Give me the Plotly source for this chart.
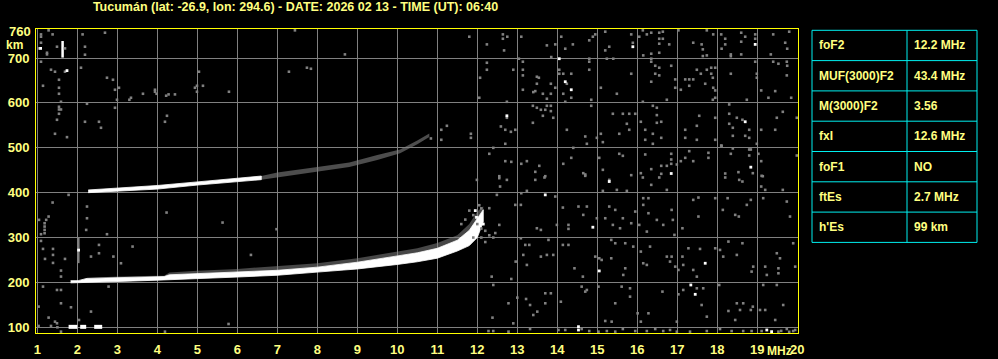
import plotly.graph_objects as go

# ---------------- data ----------------
title_text = "Tucumán (lat: -26.9, lon: 294.6) - DATE: 2026 02 13 - TIME (UT): 06:40"
freq_ticks = list(range(1, 21))
height_ticks = [100, 200, 300, 400, 500, 600, 700]
top_height_label = 760

table_params = ["foF2", "MUF(3000)F2", "M(3000)F2", "fxI", "foF1", "ftEs", "h'Es"]
table_values = ["12.2 MHz", "43.4 MHz", "3.56", "12.6 MHz", "NO", "2.7 MHz", "99 km"]

# F2 trace (white core band, lower & upper virtual height)
f2_freq = [1.83, 2.02, 2.24, 3.0, 4.0, 4.17, 4.3, 5.0, 6.0, 7.0, 8.0, 9.0, 10.0, 10.5, 11.0, 11.5, 11.8, 12.0, 12.15]
f2_lo   = [199, 199, 200, 202, 205, 206, 206, 208, 212, 216, 223, 230, 240, 246, 254, 270, 282, 300, 335]
f2_hi   = [204, 204, 209, 211, 213, 213, 217, 220, 223, 227, 234, 245, 259, 266, 276, 294, 316, 342, 362]
f2_fringe = [204, 204, 210, 213, 215, 215, 222, 226, 230, 236, 243, 254, 268, 276, 288, 305, 330, 358, 370]

# second-hop F trace
f2b_white_freq = [2.27, 3.0, 4.0, 5.0, 6.0, 6.6]
f2b_white_lo   = [400, 403, 408, 417, 425, 429]
f2b_white_hi   = [406, 410, 416, 424, 433, 437]
f2b_gray_freq  = [6.6, 7.0, 8.0, 8.8, 9.5, 10.07, 10.5, 10.8]
f2b_gray_lo    = [429, 435, 447, 457, 473, 488, 508, 524]
f2b_gray_hi    = [437, 445, 457, 467, 484, 496, 516, 532]

# sporadic E segments (start MHz, end MHz) at virtual height
es_segments = [(1.78, 2.0), (2.07, 2.22), (2.42, 2.62)]
es_height = 101

# isolated vertical echoes (freq, km from, km to)
white_spike = (1.63, 701, 738)
gray_spike = (2.03, 243, 301)

noise_gray = [
    # 700-760 km
    (11.8,747.5),(12.24,730.4),(12.64,752.7),(12.64,743),(12.75,747.5),(12.67,717),(13.1,747.5),(13.74,728.2),
    (13.85,702.2),(13.95,730.4),(14.1,747.5),(14.2,720.8),(14.39,730.4),(14.8,739.4),(14.89,747.5),(14.95,752.7),
    (15.2,758.7),(15.3,725.2),(15.2,717),(15.85,752.7),(15.89,734),(16.05,747.5),(16.14,761.7),(16.24,752.7),
    (16.35,756.4),(16.55,756.4),(16.64,758.7),(16.55,743),(16.64,743),(16.55,731.9),(16.8,730.4),(16.35,709.6),
    (16.15,705.9),(16.55,711.8),(17.03,761.7),(17.4,734.1),(17.61,730.4),(17.64,719.3),(17.74,761.7),(17.9,752.7),
    (17.64,704.4),(17.74,705.9),(18.1,752.7),(18.2,743),(18.2,730.4),(18.11,720.8),(18.34,708.1),(18.34,704),
    (18.6,756.4),(18.6,736.4),(18.7,747.5),(18.95,752.7),(18.95,743),(19.4,752.7),(19.8,758.7),(19.7,734.1),
    (19.75,720.8),(19.34,708.1),(18.6,708.1),
    (1.09,752.7),(1.09,747.5),(1.28,761.7),(1.38,752.7),(2.13,752.7),(2.69,756.4),(1.09,734.1),(1.49,725.2),
    (1.69,721.5),(1.03,721.5),(2.19,725.2),(1.24,711.8),(1.24,708.1),(2.19,707.4),(7.44,761.7),(8.69,708.1),
    # 600-700 km
    (12.24,689.5),(12.24,673.9),(12.07,656.1),(12.05,611.5),(12.74,602.5),(12.9,673.9),(13.04,698.5),(13.14,691.8),
    (13.14,673.9),(13.14,661.3),(13.14,629.3),(13.49,658.3),(13.54,656.1),(13.49,642.7),(13.4,624.1),(13.45,626.3),
    (13.74,609.3),(13.64,620.4),(13.84,642.7),(13.95,633.8),(13.84,620.4),(14.05,673.9),(14.05,665),(14.15,665),
    (14.35,665),(14.24,642.7),(14.15,620.4),(14.35,611.5),(14.2,602.5),(14.8,698.5),(14.8,691.8),(14.8,673.9),
    (14.85,607),(15.09,633.8),(15.24,698.5),(15.4,698.5),(15.49,620.4),(15.85,665),(16.14,602.5),(16.35,698.5),
    (16.35,691.8),(16.45,682.8),(16.55,678.4),(16.45,665),(16.55,661.3),(16.85,682.8),(16.35,647.2),(16.95,652.4),
    (16.95,633.8),(16.74,607),(17.2,652.4),(17.3,652.4),(17.4,652.4),(17.3,638.2),(17.09,629.3),(17.49,673.9),
    (17.59,665),(17.74,673.9),(17.85,678.4),(17.95,678.4),(17.85,665),(17.89,656.1),(17.7,642.7),(17.9,633.8),
    (17.95,627.8),(17.89,607),(17.95,611.5),(18.34,665),(18.74,607),(18.99,665),(18.99,656.1),(18.95,691.8),
    (19.4,691.8),(19.53,687.3),(19.74,691.8),(19.75,682.8),(19.74,661.3),(19.1,627.8),(19.45,626.3),(19.28,611.5),
    (19.85,611.5),
    (1.09,691.8),(1.34,673.9),(1.44,669.5),(1.69,669.5),(2.09,678.4),(1.54,651.6),(1.14,638.2),(1.54,633.8),
    (1.54,620.4),(1.59,602.5),(2.74,656.1),(2.89,651.6),(2.94,629.3),(3.04,633.8),(2.99,607),(3.3,607),
    (3.34,611.5),(3.64,620.4),(3.94,629.3),(3.94,624.9),(3.98,620.4),(4.22,616),(4.28,619),(4.44,619),
    (4.94,633.8),(4.99,638.2),(4.99,624.9),(5.14,638.2),(5.04,669.5),(5.79,624.9),(7.29,669.5),(7.74,678.4),
    (7.84,676.1),
    # 500-600 km
    (10.84,520.8),(11.1,540.1),(11.24,549),(11.84,531.2),(11.84,522.2),(11.1,517.8),(12.74,566.9),(12.59,547.5),
    (12.7,540.1),(12.84,535.6),(12.95,540.1),(12.7,508.9),(13.39,593.6),(13.39,555.7),(13.49,589.2),(13.59,584.7),
    (13.7,584.7),(13.74,593.6),(13.84,593.6),(13.84,581.7),(13.64,571.3),(13.9,566.9),(14.24,540.1),(14.7,525.2),
    (14.74,508.9),(14.99,522.2),(15.14,512.6),(15.09,531.2),(14.85,593.6),(15.39,575.8),(15.64,575.8),(15.8,575.8),
    (15.95,575.8),(15.74,553.5),(15.55,531.2),(15.8,540.1),(16.09,558),(16.2,540.1),(16.39,593.6),(16.49,589.2),
    (16.49,572.8),(16.49,555.7),(16.6,558),(16.39,531.2),(16.2,517.8),(16.39,508.9),(16.6,522.2),(17.2,540.1),
    (17.2,522.2),(17.49,549),(17.55,571.3),(17.49,517.8),(17.95,566.9),(17.95,517.8),(18.11,504.4),(18.3,596.6),
    (18.3,575.8),(18.3,553.5),(18.39,544.6),(18.49,566.9),(18.63,562.4),(18.8,540.1),(18.39,526.7),(18.7,526.7),
    (18.8,522.2),(19.1,540.1),(19.45,540.1),(19.49,566.9),(19.64,580.2),(19.99,566.9),(18.99,508.9),
    (1.54,591.4),(1.54,585.4),(1.59,585.4),(1.54,575.8),(1.49,562.4),(1.44,531.2),(1.74,523.7),(2.94,589.2),
    (2.24,598.1),(2.19,558),(2.54,558),(2.59,544.6),(4.24,571.3),(4.19,558),
    # 400-500 km
    (12.4,499.9),(12.3,486.6),(12.7,470.2),(12.85,468.7),(12.55,436.7),(13.1,464.3),(13.24,470.2),(13.55,459.8),
    (13.45,446.4),(13.7,436.7),(14.15,464.3),(14.35,477.6),(14.4,499.9),(14.65,443.4),(14.7,440.5),(15.05,477.6),
    (15.14,450.9),(15.55,486.6),(15.64,482.1),(15.85,439),(16.2,485.1),(16.09,443.4),(16.35,452.4),(16.6,459.8),
    (16.6,442),(16.74,459.8),(16.85,486.6),(16.85,473.9),(16.85,464.3),(16.99,462.8),(17.09,470.2),(17.2,477.6),
    (17.3,492.5),(17.4,470.2),(17.78,488.8),(17.78,477.6),(18.1,505),(18.34,486.6),(18.39,498.5),(18.8,496.2),
    (18.84,496.2),(18.8,482.8),(18.89,443.4),(19.03,486.6),(19.1,470.2),(18.2,442.7),(18.53,445.7),(19.14,436.7),
    (19.99,482.8),
    (11.99,428.5),(12.55,432.3),(12.57,413.7),(12.74,428.5),(13.45,428.5),(13.68,433.8),(14.7,437.5),(15.3,428.5),
    (16.14,433.8),(16.35,417.4),(16.55,433.8),(16.74,406.2),(18.2,433.8),(18.55,428.5),(18.63,424.8),(19.11,437.5),
    (19.1,413.7),(19.2,406.2),(19.64,406.2),(12.49,395.1),(13.1,398.8),(13.24,404),(13.95,391.4),(15.14,404),
    (15.49,406.2),(15.74,404),(1.78,395.1),(1.38,378),(2.24,369.1),(2.24,343),
    # 300-400 km
    (12.3,365.4),(12.55,328.2),(12.95,372.8),(13.09,372.8),(13.49,320.7),(13.59,317),(13.99,328.2),(14.14,366.8),
    (14.28,328.2),(14.28,319.3),(14.53,369.1),(14.65,350.5),(14.74,369.1),(14.99,343),(15.2,343),(15.3,369.1),
    (15.39,328.2),(15.45,361.6),(15.57,320.7),(15.64,343),(15.85,331.9),(15.95,357.9),(16.05,328.2),(16.15,387.7),
    (16.28,387.7),(16.15,372.8),(16.24,313.3),(16.28,354.2),(16.49,339.3),(16.65,328.2),(16.86,361.6),(16.89,339.3),
    (17.13,320.7),(16.93,305.9),(17.4,383.9),(17.53,389.1),(17.53,346.8),(17.95,387.7),(18.14,361.6),(18.26,387.7),
    (18.45,350.5),(18.54,346.8),(18.74,372.8),(18.84,383.9),(19.15,387.7),(19.82,346.8),(19.74,380.2),
    (2.22,317),(2.74,307.4),(1.28,346.8),(1.22,339.4),(1.18,331.9),(1.18,324.5),(1.18,317),(1.18,309.6),
    (1.09,307.4),(1.04,339.4),(4.23,355.7),(5.63,333.4),(6.98,318.6),
    (11.6,330),(11.7,340),(11.9,350),(12.0,330),(12.1,320),(12.2,315),(12.3,305),(12.4,300),(12.45,310),
    (11.9,300),(12.1,300),(12.2,290),(11.8,360),(12.05,372),(12.1,365),
    # 200-300 km
    (12.36,212.9),(12.85,207.7),(12.96,246.4),(13.09,298.4),(13.2,283.6),(13.3,283.6),(13.15,261.3),(13.24,239),
    (13.59,257.5),(13.74,261.3),(13.9,261.3),(13.78,294.7),(14.14,283.6),(14.28,283.6),(14.43,231.5),(14.64,212.9),
    (14.95,257.5),(15.05,253.8),(15.11,250.1),(15.35,253.8),(15.35,294.7),(15.45,287.3),(15.7,287.3),(15.7,231.5),
    (15.65,216.7),(15.9,279.8),(16.09,268.7),(16.32,279.8),(16.15,242.7),(16.24,239),(16.74,257.5),(16.82,246.4),
    (16.86,257.5),(16.95,235.2),(17.03,227.8),(17.15,239),(17.13,257.5),(17.28,276.1),(17.4,227.8),(17.57,274.6),
    (17.49,212.9),(17.95,276.1),(18.07,272.4),(18.15,257.5),(18.28,291),(18.49,261.3),(18.63,287.3),(18.9,235.2),
    (18.86,224.1),(19.2,235.2),(19.24,216.7),(19.49,265),(19.53,231.5),(19.53,220.4),(19.9,287.3),(19.95,235.2),
    (19.57,253.8),
    (1.09,292.5),(1.14,274.7),(1.39,274.7),(1.39,261.3),(1.19,252.4),(1.39,243.5),(1.69,252.4),(1.59,226.4),
    (1.59,213),(2.34,257.6),(2.54,283.6),(2.54,265),(2.9,257.6),(3.09,242.7),(3.38,279.9),(6.34,261.3),
    # 100-200 km
    (12.4,194.3),(12.38,121.5),(12.78,153.5),(12.9,108.8),(13.0,166.1),(13.22,163.1),(13.32,149.7),(13.4,127.4),
    (13.5,134.9),(13.7,175.8),(13.7,153.5),(13.84,175.8),(14.09,157),(14.7,179.5),(14.61,190.6),(14.74,183.2),
    (15.03,190.6),(15.2,114.1),(15.36,112.6),(15.45,153.5),(15.61,190.6),(15.82,186.9),(15.82,168.3),(16.01,131.2),
    (16.09,112.6),(16.28,131.2),(16.63,179.5),(16.99,112.6),(17.03,173.5),(17.15,183.2),(17.49,186.9),(17.65,186.9),
    (17.61,149.7),(17.74,123.7),(18.05,194.3),(18.28,136.4),(18.49,153.5),(18.57,138.6),(18.65,153.5),(18.45,116.3),
    (18.84,138.6),(18.89,146),(19.07,138.6),(19.2,138.6),(19.15,194.3),(19.45,116.3),(19.49,194.3),(19.65,149.7),
    (1.14,190.7),(1.49,183.2),(1.59,183.2),(1.59,153.5),(1.84,144.6),(2.34,135),(2.78,190.7),(1.03,146.1),
    (1.28,121.6),(2.04,116.3),(1.44,112.6),(1.49,108.9),(1.34,103),(1.03,103),(5.78,107.4),(1.5,100),
    # 87-100 km
    (12.28,91.7),(12.4,91.7),(12.78,90.3),(13.32,96.2),(14.03,94),(14.2,94),(14.61,96.2),(14.8,91.7),(15.03,90.3),
    (15.24,91.7),(15.45,90.3),(15.64,96.2),(15.95,91.7),(16.24,91.7),(16.45,96.2),(16.65,91.7),(16.82,94),
    (16.99,90.3),(17.32,90.3),(17.74,91.7),(18.07,96.2),(18.36,91.7),(18.65,91.7),(18.86,91.7),(19.11,91.7),
    (19.53,90.3),(19.74,96.2),(19.9,91.7),(19.6,92),(19.8,90),(19.95,94),(4.19,90.3),(1.59,90.3),
]

noise_white = [
    (15.89,725.2),(18.95,730.4),(14.05,698.5),(14.2,647.2),(14.35,629.3),(12.74,571.3),(18.7,558),(16.85,442.7),
    (18.84,456.8),(15.3,424.8),(13.7,395.1),(14.89,323),(15.05,225.6),(17.7,242.7),(17.34,194.3),(17.45,173.5),
    (14.53,101.4),(14.53,94),(19.24,94),(19.36,90.3),(1.08,721.5),(1.74,672),(2.03,272),
    (11.95,360),(12.15,330),(11.98,345),
]

# ---------------- styling ----------------
BG = "#000000"
GRID = "#808080"
YELLOW = "#ffff00"
TEXT = "#ffff80"
CYAN = "#00f0f0"
FONT = "Liberation Sans"

fig = go.Figure()


def band(freq, lo, hi, color, lw=0.8):
    fig.add_trace(go.Scatter(
        x=list(freq) + list(freq)[::-1], y=list(hi) + list(lo)[::-1],
        fill="toself", fillcolor=color, mode="lines", line=dict(width=lw, color=color),
        hoverinfo="skip", showlegend=False))


# F2 gray fringe, then white core
band(f2_freq, f2_hi, f2_fringe, "rgba(128,128,128,0.55)", 0)
band(f2_freq, f2_lo, f2_hi, "#ffffff")
# second hop
band(f2b_gray_freq, f2b_gray_lo, f2b_gray_hi, "rgba(128,128,128,0.6)", 0)
band(f2b_white_freq, f2b_white_lo, f2b_white_hi, "#ffffff")

# Es segments
for f0, f1 in es_segments:
    fig.add_trace(go.Scatter(x=[f0, f1], y=[es_height, es_height], mode="lines",
                             line=dict(color="#ffffff", width=4), hoverinfo="skip", showlegend=False))

# spikes
fig.add_trace(go.Scatter(x=[white_spike[0]] * 2, y=[white_spike[1], white_spike[2]], mode="lines",
                         line=dict(color="#ffffff", width=2.5), showlegend=False, hoverinfo="skip"))
fig.add_trace(go.Scatter(x=[gray_spike[0]] * 2, y=[gray_spike[1], gray_spike[2]], mode="lines",
                         line=dict(color=GRID, width=2), showlegend=False, hoverinfo="skip"))

# noise
fig.add_trace(go.Scatter(x=[p[0] for p in noise_gray], y=[p[1] for p in noise_gray], mode="markers",
                         marker=dict(symbol="square", size=2.6, color=GRID, line=dict(width=0)),
                         showlegend=False, hoverinfo="skip"))
fig.add_trace(go.Scatter(x=[p[0] for p in noise_white], y=[p[1] for p in noise_white], mode="markers",
                         marker=dict(symbol="square", size=2.8, color="#ffffff", line=dict(width=0)),
                         showlegend=False, hoverinfo="skip"))

W, H = 998, 359
L, R, T, B = 36, 200, 29, 26
PW, PH = W - L - R, H - T - B

tick_font = dict(family=FONT, size=13, color=TEXT)

fig.update_layout(
    template="none",
    width=W, height=H, margin=dict(l=L, r=R, t=T, b=B, pad=0, autoexpand=False),
    paper_bgcolor=BG, plot_bgcolor=BG,
    title=dict(text="<b>" + title_text + "</b>", x=295.5 / W, xanchor="center",
               y=1 - 7 / H, yanchor="middle", font=dict(family=FONT, size=12.5, color=TEXT)),
    xaxis=dict(range=[0.965, 20.02], tickvals=freq_ticks, ticktext=["<b>%d</b>" % v for v in freq_ticks],
               showgrid=True, gridcolor=GRID, gridwidth=1, zeroline=False, ticks="",
               showline=True, linecolor=YELLOW, linewidth=1, mirror=True, tickfont=tick_font,
               ticklabelstandoff=4, automargin=False),
    yaxis=dict(range=[87.3, 764.7], tickvals=height_ticks, ticktext=["<b>%d</b>" % v for v in height_ticks],
               showgrid=True, gridcolor=GRID, gridwidth=1, zeroline=False, ticks="",
               showline=True, linecolor=YELLOW, linewidth=1, mirror=True, tickfont=tick_font,
               ticklabelstandoff=3, automargin=False),
    showlegend=False,
)

ann = []
ann.append(dict(x=0, xref="paper", y=top_height_label, yref="y", text="<b>%d</b>" % top_height_label,
                showarrow=False, xanchor="right", yanchor="middle", xshift=-3, font=tick_font))
ann.append(dict(x=(14 - L) / PW, xref="paper", y=(H - B - 45) / PH, yref="paper", text="<b>km</b>",
                showarrow=False, xanchor="center", yanchor="middle",
                font=dict(family=FONT, size=12, color=TEXT)))
ann.append(dict(x=(779 - L) / PW, xref="paper", y=(H - B - 351) / PH, yref="paper", text="<b>MHz</b>",
                showarrow=False, xanchor="center", yanchor="middle",
                font=dict(family=FONT, size=12, color=TEXT)))

# table
tx0, tx1, tdiv = 812, 977, 907
ty0, row_h = 30.3, 30.3
shapes = []


def px_x(v):
    return (v - L) / PW


def px_y(v):
    return (H - B - v) / PH


n = len(table_params)
shapes.append(dict(type="rect", xref="paper", yref="paper", x0=px_x(tx0), x1=px_x(tx1),
                   y0=px_y(ty0), y1=px_y(ty0 + n * row_h), line=dict(color=CYAN, width=1)))
shapes.append(dict(type="line", xref="paper", yref="paper", x0=px_x(tdiv), x1=px_x(tdiv),
                   y0=px_y(ty0), y1=px_y(ty0 + n * row_h), line=dict(color=CYAN, width=1)))
for i in range(1, n):
    yy = ty0 + i * row_h
    shapes.append(dict(type="line", xref="paper", yref="paper", x0=px_x(tx0), x1=px_x(tx1),
                       y0=px_y(yy), y1=px_y(yy), line=dict(color=CYAN, width=1)))
cell_font = dict(family=FONT, size=12, color=TEXT)
for i, (p, v) in enumerate(zip(table_params, table_values)):
    yc = ty0 + (i + 0.5) * row_h
    ann.append(dict(x=px_x(817), xref="paper", y=px_y(yc), yref="paper", text="<b>%s</b>" % p,
                    showarrow=False, xanchor="left", yanchor="middle", font=cell_font))
    ann.append(dict(x=px_x(912), xref="paper", y=px_y(yc), yref="paper", text="<b>%s</b>" % v,
                    showarrow=False, xanchor="left", yanchor="middle", font=cell_font))

fig.update_layout(annotations=ann, shapes=shapes)
fig.write_html("out.html")
